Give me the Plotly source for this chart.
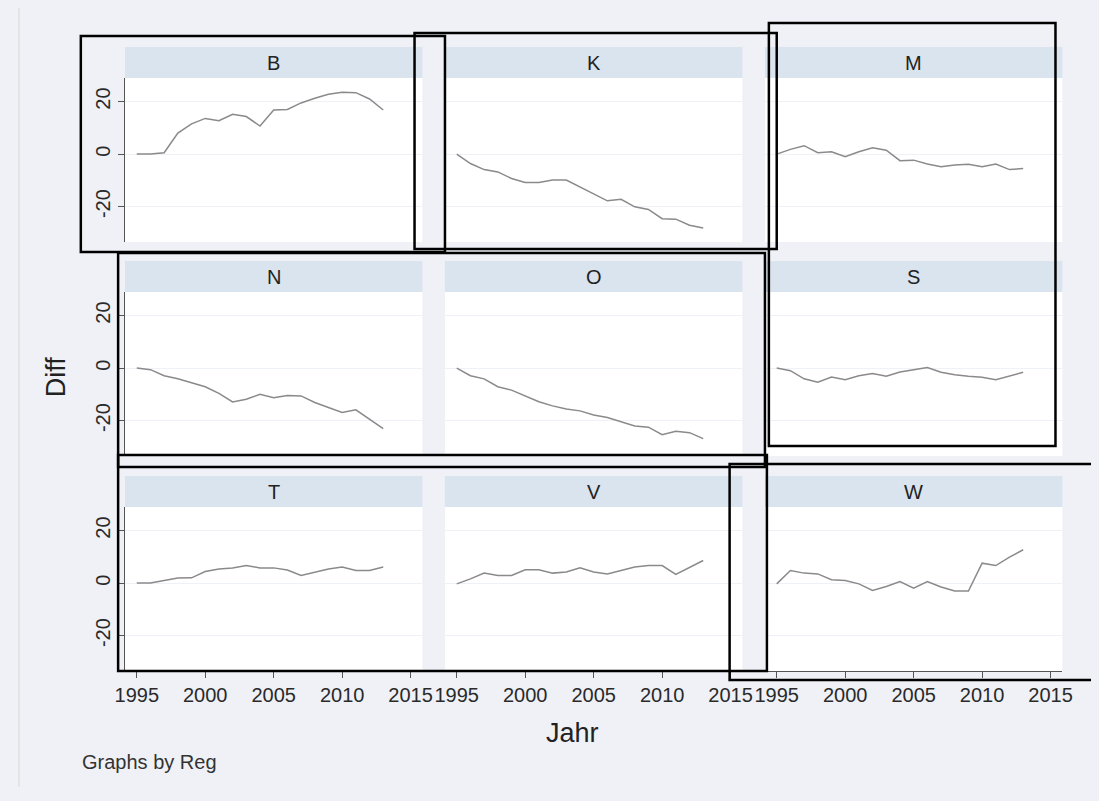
import plotly.graph_objects as go

# ---------------- data ----------------
years = list(range(1995, 2014))
regions = ["B", "K", "M", "N", "O", "S", "T", "V", "W"]

diff_B = [0, 0, 0.5, 8, 11.5, 13.6, 12.7, 15.2, 14.3, 10.7, 16.8, 17, 19.5, 21.3, 22.8, 23.6, 23.4, 21, 16.8]
diff_K = [0, -3.6, -5.9, -6.8, -9.3, -10.8, -10.8, -9.9, -9.9, -12.5, -15.3, -17.8, -17.2, -20.1, -21.1, -24.6, -24.8, -27.1, -28.2]
diff_M = [0, 1.8, 3.2, 0.5, 0.9, -1, 0.9, 2.4, 1.5, -2.5, -2.3, -3.8, -4.8, -4.2, -3.9, -4.8, -3.8, -5.9, -5.5]
diff_N = [0, -0.6, -2.9, -4.1, -5.6, -7.1, -9.6, -12.9, -11.9, -10, -11.3, -10.4, -10.6, -13.1, -15, -16.9, -15.9, -19.4, -23.1]
diff_O = [0, -2.9, -4.1, -7.1, -8.4, -10.6, -12.8, -14.4, -15.6, -16.3, -17.9, -18.8, -20.6, -22.1, -22.5, -25.4, -24.1, -24.6, -26.9]
diff_S = [0, -1, -4.1, -5.4, -3.4, -4.4, -2.9, -2.1, -3.1, -1.5, -0.6, 0.25, -1.6, -2.5, -3.1, -3.5, -4.4, -2.9, -1.6]
diff_T = [0, 0, 1, 1.9, 2, 4.4, 5.4, 5.8, 6.7, 5.8, 5.8, 5, 2.9, 4.2, 5.4, 6.1, 4.8, 4.8, 6.1]
diff_V = [-0.3, 1.6, 3.8, 2.9, 2.9, 5.1, 5.1, 3.8, 4.2, 5.8, 4.2, 3.5, 4.8, 6.1, 6.7, 6.7, 3.3, 5.8, 8.6]
diff_W = [-0.3, 4.8, 3.8, 3.5, 1.3, 1, -0.3, -2.8, -1.3, 0.6, -1.9, 0.6, -1.5, -3, -3, 7.6, 6.7, 9.9, 12.7]

series = [diff_B, diff_K, diff_M, diff_N, diff_O, diff_S, diff_T, diff_V, diff_W]

x_ticks = [1995, 2000, 2005, 2010, 2015]
y_ticks = [-20, 0, 20]
y_tick_text = ["-20", "0", "20"]
x_title = "Jahr"
y_title = "Diff"
note_text = "Graphs by Reg"

# ---------------- layout (window pixels) ----------------
# the page body keeps its default 8px margin, so the figure is sized to fit
# inside the 1099x801 window and window pixels are shifted by that margin.
BODY_M = 8
W, H = 1099 - 2 * BODY_M, 801 - 2 * BODY_M - 6
col_px = [(117, 420), (443, 746), (769, 1072)]
row_px = [(78, 242), (292, 456), (507, 671)]   # plot top, plot bottom
strip_h = 31
x_range = [1994.14, 2015.86]
y_range = [-33.5, 29]

def px(x):
    return (x - BODY_M) / W

def py(y):
    return 1 - (y - BODY_M) / H

FONT = "Liberation Sans, Arial, sans-serif"
line_color = "#8a8a8a"
strip_color = "#dae4ef"
paper_color = "#eff1f7"

fig = go.Figure()
shapes = []
annotations = []

for i, (reg, vals) in enumerate(zip(regions, series)):
    r, c = divmod(i, 3)
    n = "" if i == 0 else str(i + 1)
    fig.add_trace(go.Scatter(
        x=years, y=vals, mode="lines",
        line=dict(color=line_color, width=1.5),
        xaxis="x" + n, yaxis="y" + n, showlegend=False,
        hoverinfo="x+y"))
    x0, x1 = col_px[c]
    y0, y1 = row_px[r]
    fig.layout["xaxis" + n] = dict(
        domain=[px(x0), px(x1)], anchor="y" + n, range=x_range,
        tickvals=x_ticks, showticklabels=(r == 2),
        ticks="outside" if r == 2 else "", ticklen=6, tickcolor="#555555",
        showline=(r == 2), linecolor="#555555", linewidth=1,
        showgrid=False, zeroline=False,
        tickfont=dict(family=FONT, size=20, color="#2a2a2a"))
    fig.layout["yaxis" + n] = dict(
        domain=[py(y1), py(y0)], anchor="x" + n, range=y_range,
        tickvals=y_ticks, ticktext=y_tick_text, showticklabels=(c == 0),
        ticks="outside" if c == 0 else "", ticklen=6, tickcolor="#555555",
        showline=(c == 0), linecolor="#555555", linewidth=1,
        showgrid=True, gridcolor="#eef2f7", gridwidth=1, zeroline=False,
        tickangle=-90,
        tickfont=dict(family=FONT, size=20, color="#2a2a2a"))
    # strip
    shapes.append(dict(type="rect", xref="paper", yref="paper",
                       x0=px(x0), x1=px(x1), y0=py(y0), y1=py(y0 - strip_h),
                       fillcolor=strip_color, line=dict(width=0), layer="below"))
    # plot area white
    shapes.append(dict(type="rect", xref="paper", yref="paper",
                       x0=px(x0), x1=px(x1), y0=py(y1), y1=py(y0),
                       fillcolor="white", line=dict(width=0), layer="below"))
    annotations.append(dict(text=reg, xref="paper", yref="paper",
                            x=px((x0 + x1) / 2), y=py(y0 - strip_h / 2),
                            showarrow=False, xanchor="center", yanchor="middle",
                            font=dict(family=FONT, size=20, color="#222222")))

# grey screenshot border on the left
shapes.append(dict(type="rect", xref="paper", yref="paper", x0=px(BODY_M), x1=px(10),
                   y0=0, y1=1, fillcolor="#e4e4e4", line=dict(width=0), layer="below"))

# hand-drawn black boxes
boxes = [(72, 36, 443, 252), (412, 33, 781, 249), (773, 23, 1065, 446),
         (110, 253, 769, 467), (110, 455, 771, 671), (733, 464, 1110, 680)]
for (bx0, by0, bx1, by1) in boxes:
    shapes.append(dict(type="rect", xref="paper", yref="paper",
                       x0=px(bx0), x1=px(bx1), y0=py(by1), y1=py(by0),
                       line=dict(color="black", width=2.5), fillcolor="rgba(0,0,0,0)",
                       layer="above"))

annotations.append(dict(text=x_title, xref="paper", yref="paper", x=px(573), y=py(733),
                        showarrow=False, xanchor="center", yanchor="middle",
                        font=dict(family=FONT, size=27, color="#222222")))
annotations.append(dict(text=y_title, xref="paper", yref="paper", x=px(47), y=py(377),
                        showarrow=False, xanchor="center", yanchor="middle", textangle=-90,
                        font=dict(family=FONT, size=27, color="#222222")))
annotations.append(dict(text=note_text, xref="paper", yref="paper", x=px(71), y=py(762),
                        showarrow=False, xanchor="left", yanchor="middle",
                        font=dict(family=FONT, size=20, color="#333333")))

fig.update_layout(
    width=W, height=H, margin=dict(l=0, r=0, t=0, b=0),
    paper_bgcolor=paper_color, plot_bgcolor="rgba(0,0,0,0)",
    shapes=shapes, annotations=annotations, showlegend=False)

fig.write_html(
    "out.html",
    config={"displayModeBar": False},
    post_script="document.body.style.background='%s';" % paper_color)
